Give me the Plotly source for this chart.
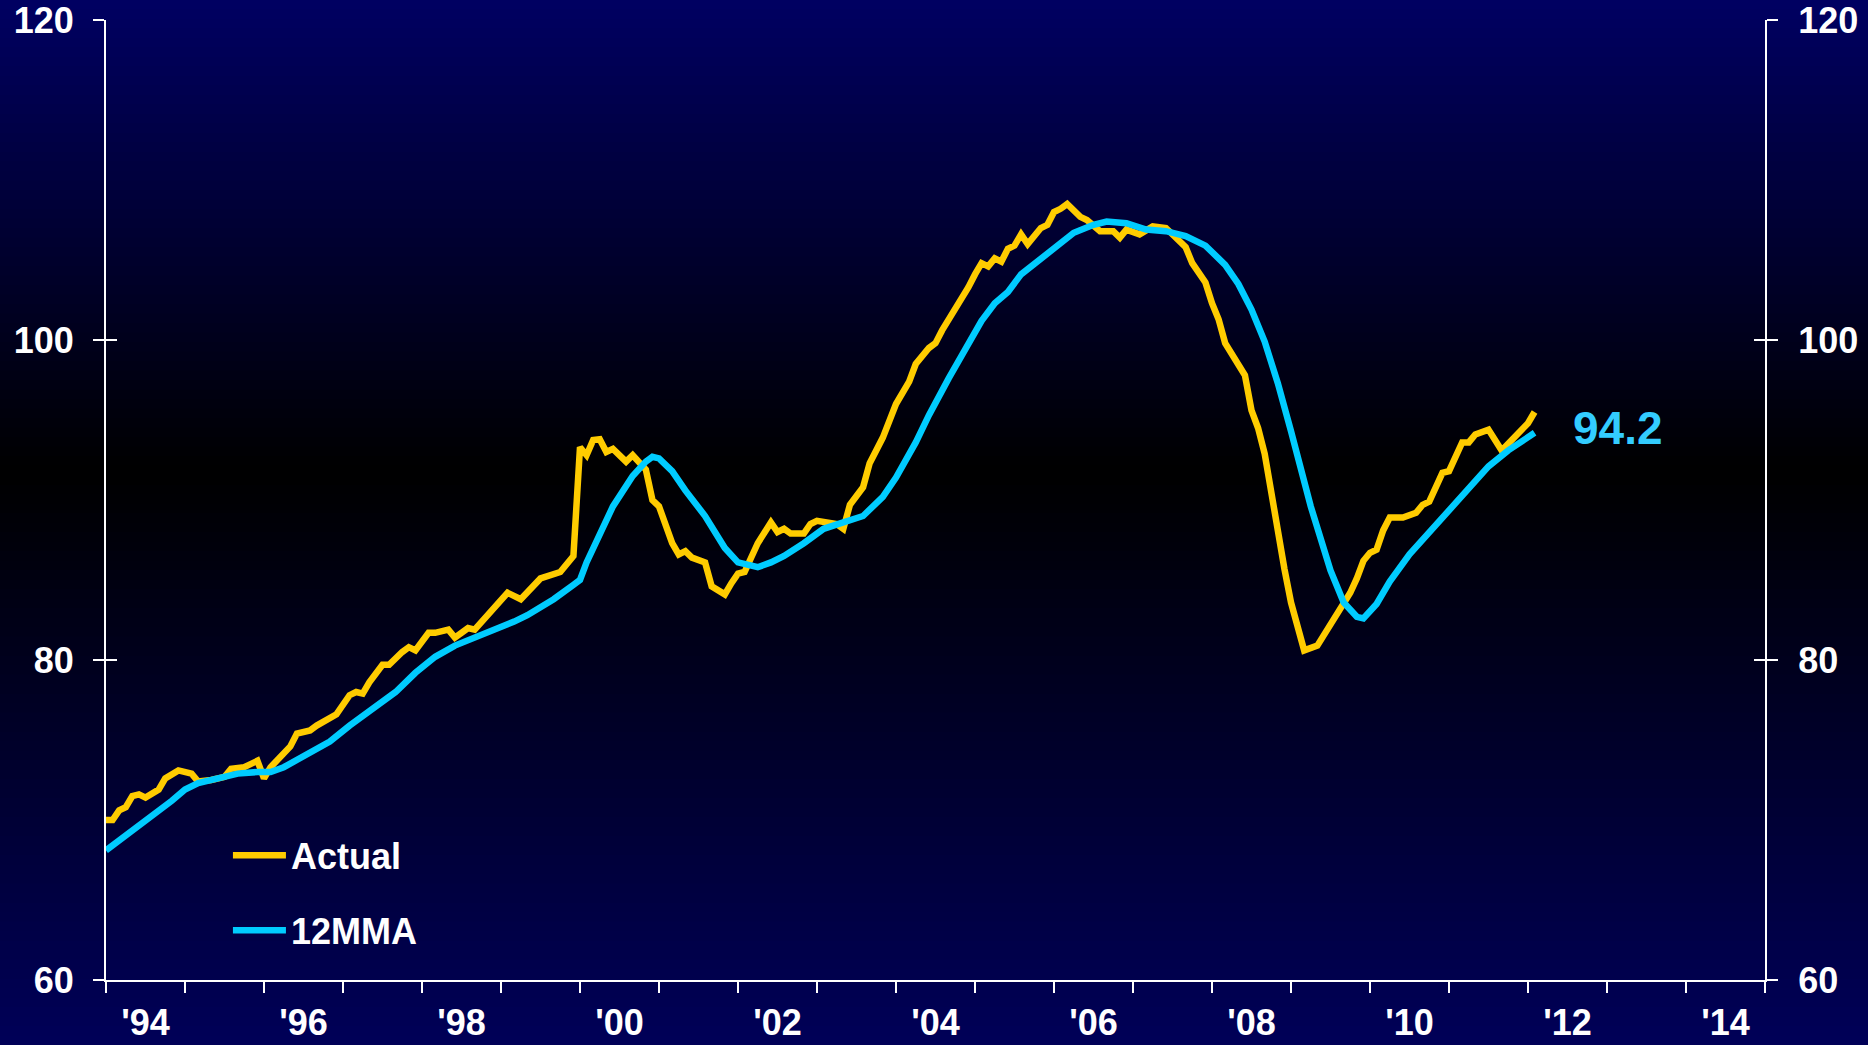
import plotly.graph_objects as go

# Month index counted from Jan 1994 (0 = Jan 1994, 217 = Feb 2012)
actual_month = [
    0, 1, 2, 3, 4, 5, 6, 8, 9, 11, 13, 14, 16, 18, 19, 21, 23, 24, 25, 27,
    28, 29, 31, 32, 34, 35, 37, 38, 39, 40, 42, 43, 45, 46, 47, 49, 50, 52, 53, 55,
    56, 58, 59, 61, 63, 66, 69, 71, 72, 73, 74, 75, 76, 77, 79, 80, 82, 83, 84, 86,
    87, 88, 89, 91, 92, 94, 95, 96, 97, 98, 99, 101, 102, 103, 104, 106, 107, 108, 109, 111,
    112, 113, 115, 116, 118, 119, 120, 122, 123, 125, 126, 127, 128, 129, 131, 132, 133, 134, 135, 136,
    137, 138, 139, 140, 142, 143, 144, 145, 146, 148, 149, 151, 153, 154, 155, 157, 158, 159, 161, 162,
    164, 165, 167, 168, 169, 170, 172, 173, 174, 175, 176, 177, 178, 179, 180, 181, 182, 184, 185, 187,
    189, 190, 191, 192, 193, 194, 195, 197, 199, 200, 201, 203, 204, 206, 207, 208, 210, 212, 214, 216,
    217,
]
actual = [
    70.0, 70.0, 70.6, 70.8, 71.5, 71.6, 71.4, 71.9, 72.6, 73.1, 72.9, 72.4, 72.5, 72.7, 73.2, 73.3, 73.7, 72.6, 73.3, 74.2,
    74.6, 75.4, 75.6, 75.9, 76.4, 76.6, 77.8, 78.0, 77.9, 78.6, 79.7, 79.7, 80.5, 80.8, 80.6, 81.7, 81.7, 81.9, 81.4, 82.0,
    81.9, 82.8, 83.3, 84.2, 83.8, 85.1, 85.5, 86.5, 93.3, 92.8, 93.75, 93.8, 93.0, 93.2, 92.4, 92.8, 91.9, 90.0, 89.6, 87.3,
    86.6, 86.8, 86.4, 86.1, 84.6, 84.1, 84.8, 85.4, 85.5, 86.4, 87.3, 88.6, 88.0, 88.2, 87.9, 87.9, 88.5, 88.7, 88.6, 88.5,
    88.2, 89.7, 90.8, 92.3, 93.9, 95.0, 96.0, 97.4, 98.5, 99.5, 99.8, 100.6, 101.3, 101.8, 103.3, 104.1, 104.8, 104.6, 105.1, 104.9,
    105.7, 105.9, 106.6, 106.0, 107.0, 107.2, 108.0, 108.2, 108.5, 107.7, 107.5, 106.8, 106.8, 106.4, 106.9, 106.6, 106.9, 107.1, 107.0, 106.6,
    105.8, 104.8, 103.6, 102.3, 101.3, 99.8, 98.4, 97.8, 95.6, 94.5, 92.9, 90.4, 88.2, 85.7, 83.6, 82.2, 80.6, 80.9, 81.6, 82.9,
    84.2, 85.1, 86.2, 86.7, 86.9, 88.1, 88.9, 88.9, 89.2, 89.7, 89.9, 91.7, 91.8, 93.6, 93.6, 94.1, 94.4, 93.1, 93.9, 94.8,
    95.5,
]

mma_month = [
    0, 2, 5, 7, 10, 12, 14, 17, 20, 23, 25, 27, 30, 34, 37, 41, 44, 47, 50, 53,
    56, 59, 62, 64, 68, 71, 72, 73, 75, 77, 80, 82, 83, 84, 86, 88, 91, 94, 96, 99,
    101, 103, 106, 109, 112, 115, 118, 120, 123, 125, 128, 130, 133, 135, 137, 139, 142, 144, 147, 150,
    152, 155, 158, 161, 164, 167, 170, 172, 174, 176, 178, 180, 181, 183, 186, 188, 190, 191, 193, 195,
    198, 201, 204, 207, 210, 213, 215, 217,
]
mma = [
    68.1, 68.7, 69.6, 70.3, 71.2, 71.9, 72.3, 72.6, 72.9, 73.0, 73.0, 73.3, 74.0, 74.9, 75.9, 77.1, 78.0, 79.2, 80.2, 80.9,
    81.4, 81.8, 82.4, 82.8, 83.8, 84.7, 85.0, 86.1, 87.9, 89.6, 91.5, 92.4, 92.7, 92.6, 91.8, 90.6, 89.0, 87.0, 86.1, 85.8,
    86.1, 86.5, 87.3, 88.2, 88.6, 89.0, 90.2, 91.4, 93.6, 95.3, 97.6, 99.1, 101.2, 102.3, 103.0, 104.1, 105.1, 105.7, 106.7, 107.2,
    107.4, 107.3, 106.9, 106.8, 106.5, 105.9, 104.7, 103.5, 101.9, 99.9, 97.3, 94.3, 92.6, 89.6, 85.6, 83.6, 82.7, 82.6, 83.5, 84.9,
    86.6, 88.0, 89.3, 90.8, 92.1, 93.1, 93.7, 94.2,
]

year_ticks = list(range(1994, 2016))
label_years = list(range(1994, 2015, 2))
label_text = ["'" + str(y)[2:] for y in label_years]
y_ticks = [60, 80, 100, 120]
last_label = "94.2"

ACTUAL_COLOR = "#FFCC00"
MMA_COLOR = "#00CCFF"
FONT = "Liberation Sans, Arial, sans-serif"


def to_year(months):
    return [1994 + m / 12 for m in months]


fig = go.Figure()

fig.add_trace(
    go.Scatter(
        x=to_year(actual_month),
        y=actual,
        mode="lines",
        name="Actual",
        legendgroup="a",
        line=dict(color=ACTUAL_COLOR, width=6.5),
    )
)
fig.add_trace(
    go.Scatter(
        x=to_year(mma_month),
        y=mma,
        mode="lines",
        name="12MMA",
        legendgroup="b",
        yaxis="y2",
        line=dict(color=MMA_COLOR, width=6.5),
    )
)

fig.add_annotation(
    x=to_year(mma_month)[-1],
    y=mma[-1],
    yref="y2",
    text=last_label,
    showarrow=False,
    xanchor="left",
    xshift=36,
    yshift=5,
    font=dict(family=FONT, size=46, color="#33CCFF", weight="bold"),
)

# Background gradient: navy at top, black a bit above the middle, navy at bottom.
W, H, T, B = 1868, 1045, 20, 980
n_bands = 110
black_at = 473
for i in range(n_bands):
    p0 = H * i / n_bands
    p1 = H * (i + 1) / n_bands + 0.6
    mid = (p0 + p1) / 2
    if mid < black_at:
        blue = 98 * (1 - mid / black_at)
    else:
        blue = 88 * (mid - black_at) / (H - black_at)
    fig.add_shape(
        type="rect",
        xref="paper",
        yref="paper",
        x0=-0.1,
        x1=1.1,
        y0=(B - p1) / (B - T),
        y1=(B - p0) / (B - T),
        line=dict(width=0),
        fillcolor=f"rgb(0,0,{int(round(blue))})",
        layer="below",
    )

axis_font = dict(family=FONT, size=36, color="white", weight="bold")

fig.update_layout(
    width=W,
    height=H,
    margin=dict(l=106, r=103, t=20, b=65, autoexpand=False),
    paper_bgcolor="rgb(0,0,90)",
    plot_bgcolor="rgba(0,0,0,0)",
    font=dict(family=FONT, color="white"),
    showlegend=True,
    legend=dict(
        x=0.0735,
        y=0.161,
        xanchor="left",
        yanchor="top",
        bgcolor="rgba(0,0,0,0)",
        font=dict(family=FONT, size=36, color="white", weight="bold"),
        tracegroupgap=25,
        traceorder="grouped",
        itemwidth=53,
    ),
    xaxis=dict(
        range=[1994, 2015],
        tickmode="array",
        tickvals=[y + 0.5 for y in label_years],
        ticktext=label_text,
        ticks="",
        ticklabelstandoff=10,
        ticklabeloverflow="allow",
        automargin=False,
        tickfont=axis_font,
        showgrid=False,
        zeroline=False,
        showline=True,
        linecolor="white",
        linewidth=2,
        minor=dict(
            tickmode="array",
            tickvals=year_ticks,
            ticks="outside",
            ticklen=11,
            tickwidth=2,
            tickcolor="white",
            showgrid=False,
        ),
    ),
    yaxis=dict(
        range=[60, 120],
        tickmode="array",
        tickvals=y_ticks,
        ticks="outside",
        ticklen=11,
        tickwidth=2,
        tickcolor="white",
        mirror="ticks",
        showline=True,
        linecolor="white",
        linewidth=2,
        showgrid=False,
        zeroline=False,
        tickfont=axis_font,
        ticklabelstandoff=12,
        ticklabeloverflow="allow",
        automargin=False,
    ),
    yaxis2=dict(
        range=[60, 120],
        overlaying="y",
        side="right",
        tickmode="array",
        tickvals=y_ticks,
        ticks="inside",
        ticklen=11,
        tickwidth=2,
        tickcolor="white",
        mirror="ticks",
        showline=True,
        linecolor="white",
        linewidth=2,
        showgrid=False,
        zeroline=False,
        tickfont=axis_font,
        ticklabelstandoff=24,
        ticklabeloverflow="allow",
        automargin=False,
    ),
)

# The page body has a default 8px margin; drop it so the figure fills the window.
fig.write_html(
    "out.html",
    config=dict(displayModeBar=False),
    post_script="document.body.style.margin='0';document.body.style.overflow='hidden';",
)
